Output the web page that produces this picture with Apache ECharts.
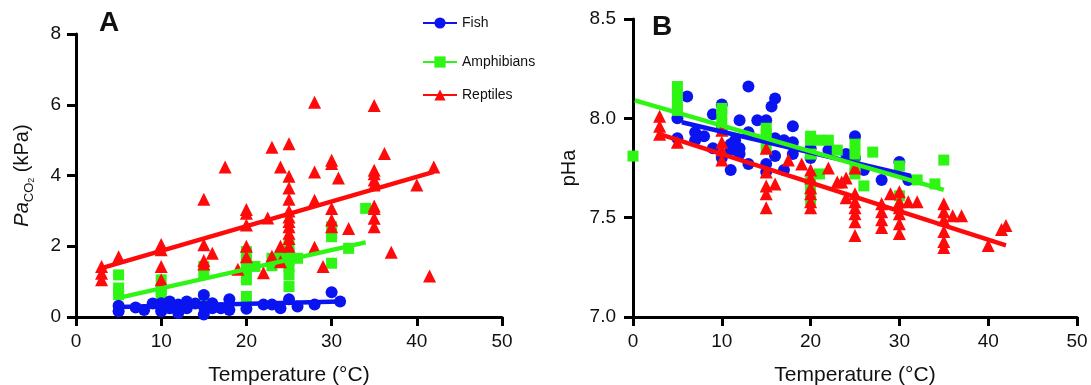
<!DOCTYPE html>
<html>
<head>
<meta charset="utf-8">
<script src="https://cdn.jsdelivr.net/npm/echarts@6/dist/echarts.min.js"></script>
<style>
  html, body { margin: 0; padding: 0; background: #fff; }
  #main { width: 1091px; height: 385px; }
</style>
</head>
<body>
<div id="main"></div>
<script>
// ---- data: [temperature °C, value] ----
// panel A, PaCO2 (kPa)
var fishA = [[5,0.32],[5,0.16],[7,0.27],[8,0.2],[9,0.38],[10,0.39],[10,0.25],[10,0.16],[11,0.44],[11,0.25],
  [12,0.35],[12,0.11],[13,0.44],[13,0.25],[14,0.38],[15,0.62],[15,0.3],[15,0.07],[16,0.39],[16,0.25],
  [17,0.25],[18,0.5],[18,0.2],[20,0.23],[22,0.35],[23,0.35],[24,0.25],[25,0.5],[26,0.3],[28,0.35],[30,0.7],[31,0.44]];
var amphA = [[5,1.19],[5,0.82],[5,0.63],[5,0.25],[10,1.05],[10,0.77],[10,0.63],[15,1.43],[15,1.24],[15,0.58],
  [20,1.85],[20,1.6],[20,1.43],[20,1.29],[20,1.05],[20,0.58],[21,1.43],[23,1.45],[23,1.66],[24,1.7],
  [25,2.04],[25,1.8],[25,1.6],[25,1.43],[25,1.19],[25,0.86],[26,1.66],[30,2.55],[30,2.27],[30,1.52],[32,1.94],[34,3.07]];
var reptA = [[3,1.43],[3,1.24],[3,1.05],[5,1.7],[10,2.05],[10,1.9],[10,1.43],[10,1.05],[15,3.33],[15,2.04],[15,1.6],[15,1.5],
  [16,1.8],[17.5,4.24],[19,1.35],[20,3.04],[20,2.93],[20,2.6],[20,2.0],[20,1.7],[22,1.25],[22.5,2.8],[23,4.8],[23,1.72],
  [24,4.24],[24,2.0],[24,1.56],[25,4.9],[25,3.98],[25,3.65],[25,3.33],[25,3.0],[25,2.83],[25,2.7],[25,2.55],[25,2.37],[25,2.22],[25,2.0],
  [28,6.07],[28,4.1],[28,3.3],[28,1.97],[29,1.43],[30,4.43],[30,4.34],[30,3.07],[30,2.74],[30,2.55],[30.8,3.93],[32,2.5],
  [35,5.98],[35,4.15],[35,4.05],[35,3.87],[35,3.73],[35,3.14],[35,3.07],[35,2.79],[35,2.55],[36.2,4.62],[37,1.83],[40,3.73],[41.5,1.16],[42,4.24]];
var fishFitA = [[5,0.28],[31,0.44]];
var amphFitA = [[5,0.54],[34,2.11]];
var reptFitA = [[3,1.38],[42,4.1]];

// panel B, pHa
var fishB = [[6.1,8.11],[5,8.0],[5,7.9],[7,7.93],[7,7.89],[9,8.02],[9,7.85],[8,7.91],[10,8.07],[10,7.95],[10,7.8],
  [11,7.74],[11,7.87],[12,7.99],[12,7.85],[12,7.82],[13,8.16],[13,7.77],[13,7.93],[14,7.99],[15,7.99],[15,7.77],[15,7.73],
  [15.6,8.06],[16,8.1],[16,7.9],[16,7.81],[17,7.89],[17,7.74],[18,7.96],[18,7.88],[18,7.82],[20,7.8],[20,7.85],
  [22,7.84],[24,7.82],[25,7.91],[25,7.8],[26,7.74],[28,7.69],[30,7.78],[31,7.69],[11,7.84],[11.5,7.89]];
var amphB = [[0,7.81],[5,8.16],[5,8.12],[5,8.07],[5,8.04],[10,8.05],[10,8.02],[10,7.97],[15,7.95],[15,7.92],[15,7.85],
  [20,7.91],[20,7.89],[20,7.82],[20,7.68],[20,7.63],[20,7.59],[21,7.89],[21,7.72],[22,7.89],[23,7.84],
  [25,7.87],[25,7.82],[25,7.76],[25,7.72],[26,7.66],[27,7.83],[30,7.76],[30,7.61],[32,7.69],[34,7.67],[35,7.79]];
var reptB = [[3,8.01],[3,7.96],[3,7.92],[5,7.88],[10,7.88],[10,7.84],[10,7.79],[10,7.94],[15,7.85],[15,7.73],[15,7.66],[15,7.62],[15,7.55],
  [16,7.67],[17.5,7.79],[19,7.77],[20,7.74],[20,7.7],[20,7.65],[20,7.62],[20,7.58],[20,7.55],[22,7.75],[23,7.68],[23.5,7.68],
  [24,7.7],[24,7.6],[25,7.75],[25,7.62],[25,7.58],[25,7.55],[25,7.52],[25,7.48],[25,7.41],[28,7.57],[28,7.53],[28,7.49],[28,7.45],
  [29,7.62],[30,7.63],[30,7.58],[30,7.55],[30,7.52],[30,7.47],[30,7.42],[31,7.58],[32,7.58],
  [35,7.57],[35,7.53],[35,7.49],[35,7.43],[35,7.38],[35,7.35],[36,7.51],[37,7.51],[40,7.36],[41.5,7.44],[42,7.46]];
var fishFitB = [[5.5,7.98],[31.3,7.71]];
var amphFitB = [[0.2,8.09],[35,7.64]];
var reptFitB = [[3,7.92],[42,7.36]];

var xTicks = { min: 0, max: 50, interval: 10 };
var names = ['Fish', 'Amphibians', 'Reptiles'];

// ---- styles ----
var blue = '#0a14f0';
var green = '#2ef514';
var red = '#ff0a0a';
var font = 'Liberation Sans, Arial, sans-serif';

function axisCommon(margin) {
    return {
        axisLine: { show: true, lineStyle: { color: '#000', width: 3 } },
        axisTick: { show: true, inside: false, length: 9, lineStyle: { color: '#000', width: 3 } },
        axisLabel: { color: '#111', fontSize: 19, fontFamily: font, margin: margin },
        splitLine: { show: false }
    };
}
function xAxisFor(idx) {
    return Object.assign(axisCommon(15), {
        type: 'value', gridIndex: idx, min: xTicks.min, max: xTicks.max, interval: xTicks.interval,
        name: 'Temperature (°C)', nameLocation: 'middle', nameGap: 48,
        nameTextStyle: { color: '#111', fontSize: 21, fontFamily: font }
    });
}
function pts(name, idx, data, symbol, size, color) {
    return {
        name: name + ' points', type: 'scatter', xAxisIndex: idx, yAxisIndex: idx,
        data: data, symbol: symbol, symbolSize: size, itemStyle: { color: color, opacity: 1 },
        z: 2, silent: true
    };
}
function fit(name, idx, data, symbol, color) {
    return {
        name: name, type: 'line', xAxisIndex: idx, yAxisIndex: idx, data: data,
        symbol: symbol, showSymbol: false, itemStyle: { color: color },
        lineStyle: { color: color, width: 4.5 }, z: 3, silent: true
    };
}

var chart = echarts.init(document.getElementById('main'), null, { renderer: 'canvas' });
var yA = Object.assign(axisCommon(15), {
    type: 'value', gridIndex: 0, min: 0, max: 8, interval: 2,
    name: '{it|Pa}{sub|CO}{sub2|2} (kPa)', nameLocation: 'middle', nameGap: 40,
    nameTextStyle: {
        color: '#111', fontSize: 20, fontFamily: font, lineHeight: 28,
        rich: {
            it: { fontStyle: 'italic', fontSize: 20, fontFamily: font, color: '#111', lineHeight: 28 },
            sub: { fontSize: 13, fontFamily: font, color: '#111', verticalAlign: 'bottom', lineHeight: 15 },
            sub2: { fontSize: 9, fontFamily: font, color: '#111', verticalAlign: 'bottom', lineHeight: 10 }
        }
    }
});
var yB = Object.assign(axisCommon(17), {
    type: 'value', gridIndex: 1, min: 7.0, max: 8.5, interval: 0.5,
    name: 'pHa', nameLocation: 'middle', nameGap: 54,
    nameTextStyle: { color: '#111', fontSize: 20, fontFamily: font }
});
yB.axisLabel.formatter = function (v) { return v.toFixed(1); };

function legendAt(name, top) {
    return {
        data: [name], left: 422, top: top, orient: 'vertical', padding: 0,
        itemWidth: 34, itemHeight: 14,
        textStyle: { color: '#111', fontSize: 14, fontFamily: font },
        selectedMode: false
    };
}

chart.setOption({
    animation: false,
    backgroundColor: '#fff',
    title: [
        { text: 'A', left: 99, top: 9, padding: 0, textStyle: { fontSize: 28, fontWeight: 'bold', fontFamily: font, color: '#111' } },
        { text: 'B', left: 652, top: 13, padding: 0, textStyle: { fontSize: 28, fontWeight: 'bold', fontFamily: font, color: '#111' } }
    ],
    legend: [legendAt(names[0], 16), legendAt(names[1], 55), legendAt(names[2], 88)],
    grid: [
        { left: 76, top: 34, width: 426, height: 283, outerBoundsMode: 'none' },
        { left: 633, top: 19, width: 444, height: 298, outerBoundsMode: 'none' }
    ],
    xAxis: [xAxisFor(0), xAxisFor(1)],
    yAxis: [yA, yB],
    series: [
        fit(names[0], 0, fishFitA, 'circle', blue),
        fit(names[1], 0, amphFitA, 'rect', green),
        fit(names[2], 0, reptFitA, 'triangle', red),
        pts('Amphibians', 0, amphA, 'rect', 11, green),
        pts('Fish', 0, fishA, 'circle', 12, blue),
        pts('Reptiles', 0, reptA, 'triangle', 13, red),
        pts('Fish', 1, fishB, 'circle', 12, blue),
        pts('Amphibians', 1, amphB, 'rect', 11, green),
        pts('Reptiles', 1, reptB, 'triangle', 13, red),
        fit(names[0], 1, fishFitB, 'circle', blue),
        fit(names[1], 1, amphFitB, 'rect', green),
        fit(names[2], 1, reptFitB, 'triangle', red)
    ]
});
</script>
</body>
</html>
